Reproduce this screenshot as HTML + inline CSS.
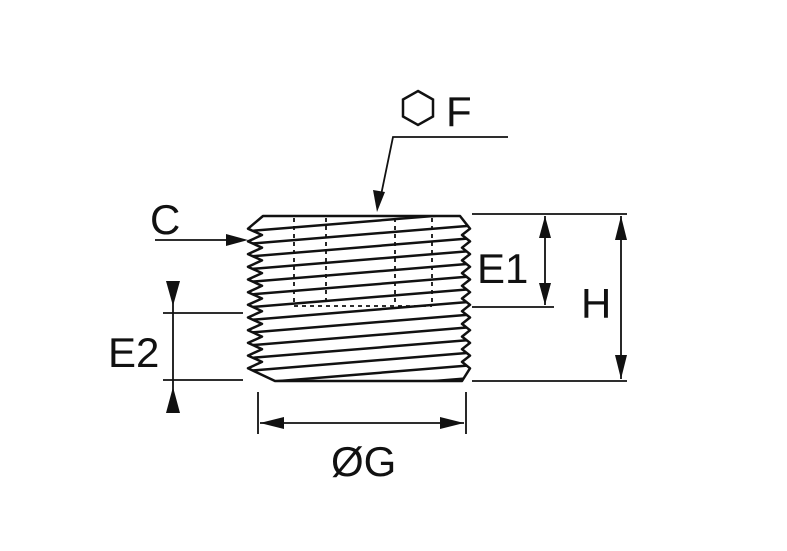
<!DOCTYPE html>
<html><head><style>body{margin:0;background:#fff}svg{display:block}</style></head><body>
<svg width="787" height="551" viewBox="0 0 787 551" xmlns="http://www.w3.org/2000/svg">
<defs>
<clipPath id="b"><polygon points="263,216 248,228.7 262,235 248,241.4 262,247.7 248,254.1 262,260.4 248,266.8 262,273.1 248,279.5 262,285.8 248,292.2 262,298.5 248,304.8 262,311.2 248,317.5 262,323.9 248,330.2 262,336.6 248,342.9 262,349.2 248,355.6 262,361.9 248,368.3 275,381 462,381 470,368.3 462,361.9 470,355.6 462,349.2 470,342.9 462,336.6 470,330.2 462,323.9 470,317.5 462,311.2 470,304.8 462,298.5 470,292.2 462,285.8 470,279.5 462,273.1 470,266.8 462,260.4 470,254.1 462,247.7 470,241.4 462,235 470,228.7 460,216"/></clipPath>
</defs>
<g stroke="#111" stroke-width="2.5" fill="none" stroke-linejoin="round">
<polygon points="263,216 248,228.7 262,235 248,241.4 262,247.7 248,254.1 262,260.4 248,266.8 262,273.1 248,279.5 262,285.8 248,292.2 262,298.5 248,304.8 262,311.2 248,317.5 262,323.9 248,330.2 262,336.6 248,342.9 262,349.2 248,355.6 262,361.9 248,368.3 275,381 462,381 470,368.3 462,361.9 470,355.6 462,349.2 470,342.9 462,336.6 470,330.2 462,323.9 470,317.5 462,311.2 470,304.8 462,298.5 470,292.2 462,285.8 470,279.5 462,273.1 470,266.8 462,260.4 470,254.1 462,247.7 470,241.4 462,235 470,228.7 460,216"/>
<g clip-path="url(#b)">
<line x1="250" y1="231" x2="470" y2="213"/>
<line x1="250" y1="243.7" x2="470" y2="225.7"/>
<line x1="250" y1="256.4" x2="470" y2="238.4"/>
<line x1="250" y1="269.1" x2="470" y2="251.1"/>
<line x1="250" y1="281.8" x2="470" y2="263.8"/>
<line x1="250" y1="294.5" x2="470" y2="276.5"/>
<line x1="250" y1="307.2" x2="470" y2="289.2"/>
<line x1="250" y1="319.9" x2="470" y2="301.9"/>
<line x1="250" y1="332.6" x2="470" y2="314.6"/>
<line x1="250" y1="345.3" x2="470" y2="327.3"/>
<line x1="250" y1="358" x2="470" y2="340"/>
<line x1="250" y1="370.7" x2="470" y2="352.7"/>
<line x1="250" y1="383.4" x2="470" y2="365.4"/>
<line x1="250" y1="396.1" x2="470" y2="378.1"/>
</g>
</g>
<g stroke="#111" stroke-width="1.8" stroke-dasharray="4,4" fill="none">
<line x1="294" y1="218" x2="294" y2="304"/><line x1="326" y1="218" x2="326" y2="304"/>
<line x1="395" y1="218" x2="395" y2="304"/><line x1="432" y1="218" x2="432" y2="304"/>
<line x1="294" y1="306" x2="432" y2="306"/>
</g>
<g stroke="#111" stroke-width="1.8" fill="none">
<line x1="472" y1="214" x2="627" y2="214"/><line x1="472" y1="307" x2="554" y2="307"/>
<line x1="472" y1="381" x2="627" y2="381"/>
<line x1="545" y1="216" x2="545" y2="305"/><line x1="621" y1="216" x2="621" y2="379"/>
<line x1="163" y1="313" x2="243" y2="313"/><line x1="163" y1="380" x2="243" y2="380"/>
<line x1="173" y1="282" x2="173" y2="412"/>
<line x1="258" y1="392" x2="258" y2="434"/><line x1="466" y1="392" x2="466" y2="434"/>
<line x1="260" y1="423" x2="464" y2="423"/>
<line x1="155" y1="240" x2="235" y2="240"/>
<polyline points="508,137 393,137 380,200"/>
</g>
<g fill="#111">
<polygon points="545,216 539,238 551,238"/><polygon points="545,305 539,283 551,283"/>
<polygon points="621,216 615,240 627,240"/><polygon points="621,379 615,355 627,355"/>
<polygon points="166,281 180,281 173,306"/><polygon points="166,413 180,413 173,387"/>
<polygon points="260,423 284,417 284,429"/><polygon points="464,423 440,417 440,429"/>
<polygon points="248,240 226,234 226,246"/>
<polygon points="377,212 373,190 385,192"/>
</g>
<polygon points="418,91 433,99.5 433,116.5 418,125 403,116.5 403,99.5" fill="none" stroke="#111" stroke-width="2.5"/>
<g font-family="Liberation Sans, sans-serif" font-size="42" fill="#111">
<text x="446" y="126">F</text>
<text x="150" y="234">C</text>
<text x="477" y="283">E1</text>
<text x="581" y="318">H</text>
<text x="108" y="367">E2</text>
<text x="331" y="476">ØG</text>
</g>
</svg>
</body></html>
